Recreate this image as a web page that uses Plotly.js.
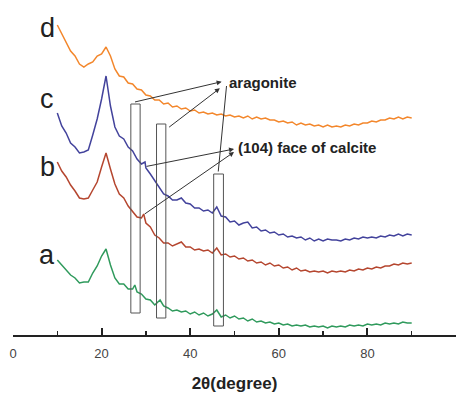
<!DOCTYPE html>
<html>
<head>
<meta charset="utf-8">
<script src="https://cdn.plot.ly/plotly-3.0.1.min.js"></script>
<style>html,body{margin:0;padding:0;background:#fff;}#chart{width:466px;height:394px;}</style>
</head>
<body>
<div id="chart"></div>
<script>
// 2-theta positions (degree)
var thetaA = [10,11,12,13,14,15,16,17,18,19,20,21,22,23,24,25,26,27,27.5,28,29,30,31,32,33.2,34,35,36,37,38,39,40,41,42,43,44,45,46,47,48,49,50,51,52,53,54,55,56,57,58,59,60,61,62,63,64,65,66,67,68,69,70,71,72,73,74,75,76,77,78,79,80,81,82,83,84,85,86,87,88,89,90];
var curveA = [75,70,66,60,57,52,53,53,62,69,79,86,70,57,51,51,46,46,50,43,41,36,35,30,35,29,27,24,25,23,24,21,23,20,22,19,21,25,18,20,17,19,16,17,14,16,13,14,12,13,11,12,10,11,9,10,9,10,8,9,8,9,7,9,8,9,8,10,9,10,9,11,10,11,10,12,11,12,11,13,12,12];

var thetaB = [10,11,12,13,14,15,16,17,18,19,20,21,22,23,24,25,26,27,28,29,29.5,30,31,32,33,34,35,36,37,38,39,40,41,42,43,44,45,46,47,48,49,50,51,52,53,54,55,56,57,58,59,60,61,62,63,64,65,66,67,68,69,70,71,72,73,74,75,76,77,78,79,80,81,82,83,84,85,86,87,88,89,90];
var curveB = [173,164,158,150,144,137,136,137,145,153,168,182,166,151,141,137,129,124,118,117,121,112,108,100,97,92,92,89,91,93,88,88,85,86,84,85,82,87,80,81,78,79,76,77,74,75,72,73,70,72,69,70,67,68,65,67,64,65,63,64,63,64,62,64,63,64,63,65,64,66,65,67,66,68,67,69,69,71,70,72,71,72];

var thetaC = [10,11,12,13,14,15,16,17,18,19,20,21,22,23,24,25,26,27,28,29,29.8,30,31,32,33,34,35,36,37,38,39,40,41,42,43,44,45,46,47,48,49,50,51,52,53,54,55,56,57,58,59,60,61,62,63,64,65,66,67,68,69,70,71,72,73,74,75,76,77,78,79,80,81,82,83,84,85,86,87,88,89,90];
var curveC = [222,209,202,192,188,182,183,185,200,216,236,259,229,208,199,196,188,184,176,171,173,167,161,154,148,141,139,135,135,137,132,131,127,127,124,125,122,128,119,118,113,114,110,112,113,107,108,104,105,102,103,100,101,98,99,97,98,95,97,94,96,94,96,95,95,94,96,95,97,96,98,97,98,97,99,98,100,99,101,99,101,100];

var thetaD = [10,11,12,13,14,15,16,17,18,19,20,21,22,23,24,25,26,27,28,29,30,31,32,33,34,35,36,37,38,39,40,41,42,43,44,45,46,47,48,49,50,51,52,53,54,55,56,57,58,59,60,61,62,63,64,65,66,67,68,69,70,71,72,73,74,75,76,77,78,79,80,81,82,83,84,85,86,87,88,89,90];
var curveD = [310,301,293,284,279,271,268,271,273,279,281,288,279,266,259,258,252,251,246,245,240,239,235,235,231,232,228,229,226,227,224,225,222,223,221,222,220,221,219,220,218,219,217,219,216,218,216,217,215,215,213,214,212,213,210,212,210,211,209,210,208,210,208,209,208,210,209,211,210,212,212,214,213,215,215,217,216,218,216,218,217];

var labels = ['a','b','c','d'];
var labelY = [80,168,236,307];
var colors = ['#2f9a5c','#b5462f','#43439c','#f3872c'];

var traces = [
  {x: thetaA, y: curveA, name: 'a'},
  {x: thetaB, y: curveB, name: 'b'},
  {x: thetaC, y: curveC, name: 'c'},
  {x: thetaD, y: curveD, name: 'd'}
].map(function(t, i){
  t.type = 'scatter'; t.mode = 'lines';
  t.line = {color: colors[i], width: 1.5};
  t.showlegend = false; t.hoverinfo = 'skip';
  return t;
});

// marker boxes around peaks: [x0, x1, y0, y1]
var boxes = [[26.6,28.7,22,231],[32.4,34.5,17,211],[45.3,47.5,9,161]];
var shapes = boxes.map(function(b){
  return {type:'rect', xref:'x', yref:'y', x0:b[0], x1:b[1], y0:b[2], y1:b[3],
          line:{color:'#555', width:1}, fillcolor:'rgba(0,0,0,0)'};
});

var fontMain = 'Liberation Sans, Arial, sans-serif';
var annotations = [];
labels.forEach(function(l, i){
  annotations.push({x:7.7, y:labelY[i], xref:'x', yref:'y', text:l, showarrow:false,
    xanchor:'center', yanchor:'middle', font:{family:fontMain, size:27, color:'#222'}});
});
// arrows: [headX, headY, tailX, tailY, head]
var arrows = [
  [47.1,253.3,27.2,232.7,2],
  [46.7,246.7,34.9,206.7,2],
  [48.2,249,46.3,162,0],
  [49.9,186,29.8,168.3,2],
  [49.9,183,29.4,120,2]
];
arrows.forEach(function(a){
  annotations.push({x:a[0], y:a[1], ax:a[2], ay:a[3], xref:'x', yref:'y', axref:'x', ayref:'y',
    text:'', showarrow:true, arrowhead:a[4], arrowsize:1, arrowwidth:1, arrowcolor:'#333'});
});
annotations.push({x:48.3, y:253, xref:'x', yref:'y', text:'<b>aragonite</b>', showarrow:false,
  xanchor:'left', yanchor:'middle', font:{family:fontMain, size:15, color:'#222'}});
annotations.push({x:50.3, y:188, xref:'x', yref:'y', text:'<b>(104) face of calcite</b>', showarrow:false,
  xanchor:'left', yanchor:'middle', font:{family:fontMain, size:15, color:'#222'}});

var layout = {
  width: 466, height: 394,
  margin: {l:13, r:10, t:0, b:59},
  paper_bgcolor:'#fff', plot_bgcolor:'#fff',
  showlegend:false,
  xaxis: {
    range:[0,100], dtick:20, tick0:0,
    showline:true, linewidth:2, linecolor:'#222',
    ticks:'inside', ticklen:7, tickwidth:2, tickcolor:'#222',
    minor:{dtick:10, ticks:'inside', ticklen:4, tickwidth:1.5, tickcolor:'#222'},
    showgrid:false, zeroline:false,
    ticklabelstandoff:5,
    tickfont:{family:fontMain, size:13, color:'#444'},
    title:{text:'<b>2θ(degree)</b>', standoff:18, font:{family:fontMain, size:17, color:'#222'}}
  },
  yaxis: {range:[0,335], visible:false, fixedrange:true},
  shapes: shapes,
  annotations: annotations
};

Plotly.newPlot('chart', traces, layout, {staticPlot:true, displayModeBar:false});
</script>
</body>
</html>
